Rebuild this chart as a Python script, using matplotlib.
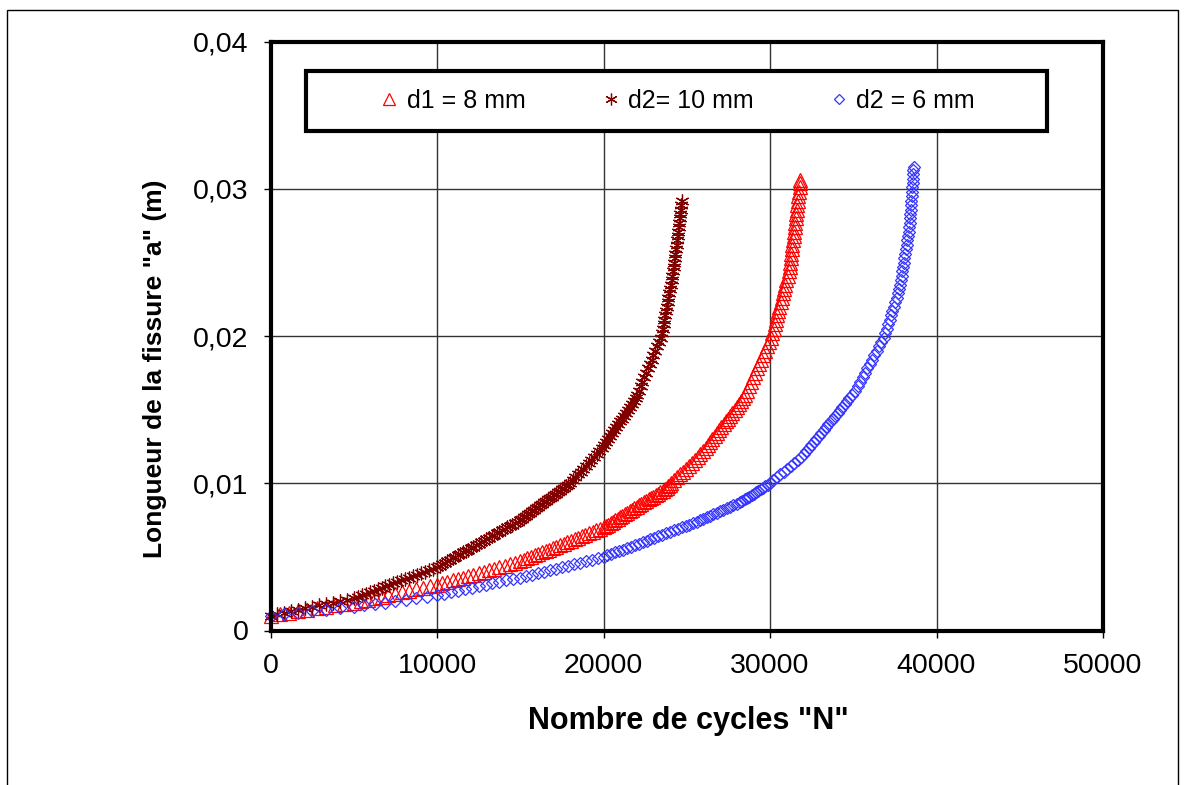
import matplotlib
matplotlib.use("Agg")
import matplotlib.pyplot as plt
from matplotlib.patches import Rectangle

plt.rcParams["font.family"] = ["Liberation Sans", "DejaVu Sans"]

# crack length grid (mm) shared by the three runs
a_grid_mm = [1.0, 1.1, 1.2, 1.3, 1.4, 1.5, 1.6, 1.7, 1.8, 1.9,
             2.0, 2.1, 2.2, 2.3, 2.4, 2.5, 2.6, 2.7, 2.8, 2.9,
             3.0, 3.1, 3.2, 3.3, 3.4, 3.5, 3.6, 3.7, 3.8, 3.9,
             4.0, 4.1, 4.2, 4.3, 4.4, 4.5, 4.6, 4.7, 4.8, 4.9,
             5.0, 5.1, 5.2, 5.3, 5.4, 5.5, 5.6, 5.7, 5.8, 5.9,
             6.0, 6.1, 6.2, 6.3, 6.4, 6.5, 6.6, 6.7, 6.8, 6.9,
             7.0, 7.1, 7.2, 7.3, 7.4, 7.5, 7.6, 7.7, 7.8, 7.9,
             8.0, 8.1, 8.2, 8.3, 8.4, 8.5, 8.6, 8.7, 8.8, 8.9,
             9.0, 9.1, 9.2, 9.3, 9.4, 9.5, 9.6, 9.7, 9.8, 9.9,
             10.0,
             10.2, 10.4, 10.6, 10.8, 11.0, 11.2, 11.4, 11.6, 11.8, 12.0,
             12.2, 12.4, 12.6, 12.8, 13.0, 13.2, 13.4, 13.6, 13.8, 14.0,
             14.2, 14.4, 14.6, 14.8, 15.0, 15.2, 15.4, 15.6, 15.8, 16.0,
             16.3, 16.6, 16.9, 17.2, 17.5, 17.8, 18.1, 18.4, 18.7, 19.0,
             19.3, 19.6, 19.9, 20.2, 20.5, 20.8, 21.1, 21.4, 21.7, 22.0,
             22.3, 22.6, 22.9, 23.2, 23.5, 23.8, 24.1, 24.4, 24.7, 25.0,
             25.3, 25.6, 25.9, 26.2, 26.5, 26.8, 27.1, 27.4, 27.7, 28.0,
             28.3, 28.6, 28.9, 29.2, 29.5, 29.8, 30.1, 30.4, 30.7, 31.0,
             31.3]

# d1 = 8 mm
d1_a_mm = [a for a in a_grid_mm if a <= 30.4] + [30.6]
d1_cycles = [0, 556, 1111, 1667, 2222, 2778, 3333, 3889, 4444, 5000,
             5417, 5833, 6250, 6667, 7083, 7500, 7917, 8333, 8750, 9167,
             9583, 10000, 10312, 10625, 10937, 11250, 11562, 11875, 12187, 12500,
             12812, 13125, 13437, 13750, 14062, 14375, 14687, 15000, 15217, 15435,
             15652, 15870, 16087, 16304, 16522, 16739, 16957, 17174, 17391, 17609,
             17826, 18043, 18261, 18478, 18696, 18913, 19130, 19348, 19565, 19783,
             20000, 20142, 20285, 20427, 20569, 20712, 20854, 20996, 21138, 21281,
             21423, 21565, 21708, 21850, 21992, 22135, 22277, 22419, 22562, 22704,
             22846, 22988, 23131, 23273, 23415, 23558, 23700, 23788, 23877, 23965,
             24054,
             24231, 24408, 24585, 24762, 24939, 25115, 25292, 25469, 25646, 25823,
             26000, 26134, 26268, 26403, 26537, 26671, 26805, 26940, 27074, 27208,
             27342, 27477, 27611, 27745, 27879, 28013, 28148, 28282, 28391, 28472,
             28594, 28716, 28838, 28961, 29083, 29205, 29327, 29449, 29571, 29693,
             29815, 29937, 30059, 30147, 30217, 30287, 30356, 30426, 30496, 30566,
             30636, 30705, 30775, 30845, 30915, 30984, 31054, 31124, 31181, 31214,
             31247, 31280, 31313, 31346, 31379, 31412, 31445, 31478, 31511, 31544,
             31577, 31610, 31643, 31676, 31709, 31742, 31775, 31808,
             31830]

# d2 = 10 mm
d2_a_mm = [a for a in a_grid_mm if a <= 29.2]
d2_cycles = [0, 417, 833, 1250, 1667, 2083, 2500, 2917, 3333, 3750,
             4167, 4583, 5000, 5238, 5476, 5714, 5952, 6190, 6429, 6667,
             6905, 7143, 7381, 7619, 7857, 8095, 8333, 8571, 8810, 9048,
             9286, 9524, 9762, 10000, 10156, 10313, 10469, 10625, 10781, 10938,
             11094, 11250, 11406, 11563, 11719, 11875, 12031, 12188, 12344, 12500,
             12656, 12813, 12969, 13125, 13281, 13438, 13594, 13750, 13906, 14063,
             14219, 14375, 14531, 14688, 14844, 15000, 15120, 15239, 15359, 15478,
             15598, 15718, 15837, 15957, 16076, 16196, 16315, 16435, 16555, 16674,
             16794, 16913, 17033, 17152, 17272, 17392, 17512, 17631, 17751, 17870,
             17990,
             18151, 18312, 18472, 18633, 18794, 18955, 19116, 19277, 19437, 19598,
             19759, 19920, 20059, 20178, 20297, 20416, 20535, 20653, 20772, 20891,
             21010, 21129, 21248, 21366, 21485, 21604, 21723, 21842, 21937, 22010,
             22120, 22231, 22341, 22451, 22561, 22672, 22782, 22892, 23002, 23113,
             23223, 23333, 23443, 23512, 23561, 23609, 23657, 23705, 23754, 23802,
             23850, 23898, 23947, 23995, 24043, 24091, 24140, 24188, 24230, 24261,
             24292, 24324, 24355, 24386, 24417, 24449, 24480, 24511, 24542, 24574,
             24605, 24636, 24668, 24700]

# d2 = 6 mm
d3_a_mm = a_grid_mm + [31.5]
d3_cycles = [0, 833, 1667, 2500, 3333, 4167, 5000, 5625, 6250, 6875,
             7500, 8125, 8750, 9375, 10000, 10417, 10833, 11250, 11667, 12083,
             12500, 12917, 13333, 13750, 14167, 14583, 15000, 15357, 15714, 16071,
             16429, 16786, 17143, 17500, 17857, 18214, 18571, 18929, 19286, 19643,
             20000, 20235, 20470, 20704, 20939, 21174, 21409, 21643, 21878, 22113,
             22348, 22583, 22817, 23052, 23287, 23522, 23757, 23991, 24226, 24461,
             24696, 24930, 25165, 25400, 25600, 25800, 26000, 26200, 26400, 26600,
             26800, 27000, 27200, 27400, 27600, 27800, 28000, 28200, 28338, 28477,
             28615, 28754, 28892, 29031, 29169, 29308, 29446, 29585, 29723, 29862,
             30000,
             30210, 30420, 30630, 30840, 31050, 31260, 31470, 31680, 31890, 32038,
             32186, 32335, 32483, 32631, 32779, 32927, 33076, 33220, 33360, 33500,
             33640, 33780, 33920, 34060, 34200, 34340, 34480, 34620, 34760, 34900,
             35110, 35296, 35435, 35574, 35713, 35852, 35991, 36130, 36269, 36408,
             36546, 36685, 36824, 36926, 37011, 37095, 37180, 37264, 37348, 37433,
             37517, 37602, 37686, 37770, 37814, 37858, 37902, 37946, 37990, 38034,
             38078, 38122, 38166, 38210, 38254, 38298, 38342, 38376, 38396, 38415,
             38434, 38453, 38473, 38492, 38511, 38531, 38550, 38565, 38580, 38595,
             38610,
             38620]

series_labels = ["d1 = 8 mm", "d2= 10 mm", "d2 = 6 mm"]
x_ticks = [0, 10000, 20000, 30000, 40000, 50000]
y_ticks = [0, 0.01, 0.02, 0.03, 0.04]
y_tick_labels = ["0", "0,01", "0,02", "0,03", "0,04"]

W, H = 1186, 785
fig = plt.figure(figsize=(W / 100, H / 100), dpi=100)
fig.patch.set_facecolor("white")

# thin outer frame of the chart area
fig.patches.append(Rectangle((7 / W, -0.02), (1178 - 7) / W, (785 - 10) / H + 0.02,
                             transform=fig.transFigure, fill=False, ec="black", lw=1.0))

ax = fig.add_axes([270.5 / W, 1 - 630.5 / H, (1103 - 270.5) / W, (630.5 - 41.7) / H])


def to_m(vals):
    return [v / 1000 for v in vals]


ax.plot(d1_cycles, to_m(d1_a_mm), linestyle="none", marker="^", ms=10, mfc="none",
        mec="#ff0000", mew=0.9, label=series_labels[0], clip_on=False, zorder=3)
ax.plot(d2_cycles, to_m(d2_a_mm), linestyle="none", marker=(6, 2, 0), ms=10,
        mec="#800000", mew=0.9, label=series_labels[1], clip_on=False, zorder=3)
ax.plot(d3_cycles, to_m(d3_a_mm), linestyle="none", marker="D", ms=6.5, mfc="none",
        mec="#3535ff", mew=0.9, label=series_labels[2], clip_on=False, zorder=3)

ax.set_xlim(0, 50000)
ax.set_ylim(0, 0.04)
ax.set_xticks(x_ticks)
ax.set_xticklabels([str(t) for t in x_ticks])
ax.set_yticks(y_ticks)
ax.set_yticklabels(y_tick_labels)
ax.grid(True, color="#333333", lw=1.0)
ax.set_axisbelow(True)
for sp in ax.spines.values():
    sp.set_linewidth(3)
    sp.set_color("black")
    sp.set_zorder(4)
ax.tick_params(direction="out", length=5, width=1, labelsize=20.5, pad=11, colors="black")

fig.text(155 / W, 1 - 369 / H, 'Longueur de la fissure "a" (m)', rotation=90,
         ha="center", va="center", fontsize=19, fontweight="bold")
fig.text(688 / W, 1 - 721 / H, 'Nombre de cycles "N"', ha="center", va="center",
         fontsize=22, fontweight="bold")

# legend box with a heavy border
fig.patches.append(Rectangle((306 / W, 1 - 131 / H), (1047 - 306) / W, 60 / H,
                             transform=fig.transFigure, fc="white", ec="black", lw=3, zorder=4))
handles, labels = ax.get_legend_handles_labels()
fig.legend(handles, labels, loc="center", bbox_to_anchor=(677 / W, 1 - 101 / H), ncol=3,
           frameon=False, fontsize=18, handlelength=0.8, handletextpad=0.3, columnspacing=3.0,
           markerscale=0.85)

fig.savefig("out.png", dpi=100)
